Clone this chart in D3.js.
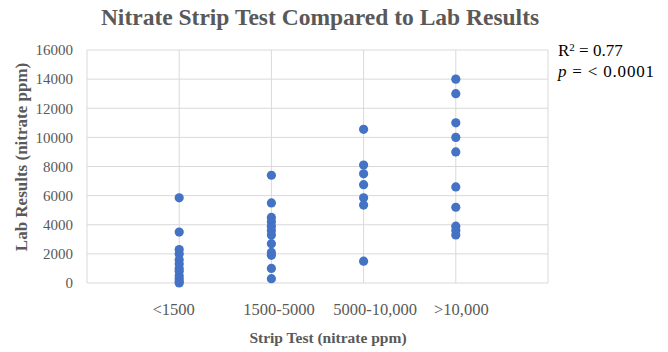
<!DOCTYPE html>
<html>
<head>
<meta charset="utf-8">
<script src="https://cdn.jsdelivr.net/npm/d3@7"></script>
<style>
  body { margin: 0; background: #fff; }
  svg { display: block; }
</style>
</head>
<body>
<svg id="chart" width="668" height="352"></svg>
<script>
// Strip test categories (x positions 1..4) and lab results per category
const categories = ["<1500", "1500-5000", "5000-10,000", ">10,000"];
const lowValues = [5850, 3500, 2300, 2000, 1600, 1300, 1000, 800, 500, 300, 100, 0];
const midValues = [7400, 5500, 4500, 4200, 3900, 3600, 3300, 2700, 2100, 1900, 1000, 300];
const highValues = [10550, 8100, 7500, 6750, 5850, 5350, 1500];
const topValues = [14000, 13000, 11000, 10000, 9000, 6600, 5200, 3900, 3600, 3300];
const yTicks = [0, 2000, 4000, 6000, 8000, 10000, 12000, 14000, 16000];

const seriesByCat = [lowValues, midValues, highValues, topValues];
const points = seriesByCat.flatMap((vals, i) => vals.map((v) => ({ x: i + 1, y: v })));

const svg = d3.select("#chart");
const margin = { left: 87, right: 120, top: 50, bottom: 69 };
const W = 668, H = 352;

const x = d3.scaleLinear().domain([0, 5]).range([margin.left, W - margin.right]);
const y = d3.scaleLinear().domain([0, 16000]).range([H - margin.bottom, margin.top]);

const serif = "'Liberation Serif', 'Times New Roman', serif";
const grey = "#595959";

// Gridlines
svg.append("g")
  .selectAll("line")
  .data(yTicks)
  .join("line")
  .attr("x1", x(0)).attr("x2", x(5))
  .attr("y1", (d) => y(d)).attr("y2", (d) => y(d))
  .attr("stroke", "#d9d9d9").attr("stroke-width", 1);

svg.append("g")
  .selectAll("line")
  .data(d3.range(0, 6))
  .join("line")
  .attr("x1", (d) => x(d)).attr("x2", (d) => x(d))
  .attr("y1", y(0)).attr("y2", y(16000))
  .attr("stroke", "#d9d9d9").attr("stroke-width", 1);

// Y axis labels
const yAxis = d3.axisLeft(y).tickValues(yTicks).tickSize(0).tickPadding(14).tickFormat(d3.format("d"));
const yg = svg.append("g").attr("transform", `translate(${x(0)},0)`).call(yAxis);
yg.select(".domain").remove();
yg.selectAll("text").attr("font-family", serif).attr("font-size", 15).attr("fill", grey);

// X category labels (the original labels sit a little off their columns)
const labelShift = [-6, 7, 11, 5];
const xAxis = d3.axisBottom(x).tickValues([1, 2, 3, 4]).tickSize(0).tickPadding(20)
  .tickFormat((d) => categories[d - 1]);
const xg = svg.append("g").attr("transform", `translate(0,${y(0)})`).call(xAxis);
xg.select(".domain").remove();
xg.selectAll("text")
  .attr("font-family", serif).attr("font-size", 16.5).attr("fill", grey)
  .attr("dx", (d) => labelShift[d - 1]);

// Points
svg.append("g")
  .selectAll("circle")
  .data(points)
  .join("circle")
  .attr("cx", (d) => x(d.x))
  .attr("cy", (d) => y(d.y))
  .attr("r", 4.6)
  .attr("fill", "#4472C4");

// Title
svg.append("text")
  .attr("x", 320).attr("y", 25)
  .attr("text-anchor", "middle")
  .attr("font-family", serif).attr("font-weight", "bold").attr("font-size", 23.5)
  .attr("fill", grey)
  .text("Nitrate Strip Test Compared to Lab Results");

// Axis titles
svg.append("text")
  .attr("x", 328).attr("y", 343)
  .attr("text-anchor", "middle")
  .attr("font-family", serif).attr("font-weight", "bold").attr("font-size", 15.5)
  .attr("fill", grey)
  .text("Strip Test (nitrate ppm)");

svg.append("text")
  .attr("transform", `translate(27,157) rotate(-90)`)
  .attr("text-anchor", "middle")
  .attr("font-family", serif).attr("font-weight", "bold").attr("font-size", 17)
  .attr("fill", grey)
  .text("Lab Results (nitrate ppm)");

// Stats annotation
const note = svg.append("g").attr("font-family", serif).attr("font-size", 17).attr("fill", "#000");
const r2 = note.append("text").attr("x", 558).attr("y", 56);
r2.append("tspan").text("R");
r2.append("tspan").attr("font-size", 11).attr("dy", -5).text("2");
r2.append("tspan").attr("dy", 5).text(" = 0.77");
const pv = note.append("text").attr("x", 558).attr("y", 77).attr("letter-spacing", 0.8);
pv.append("tspan").attr("font-style", "italic").text("p");
pv.append("tspan").text(" = < 0.0001");
</script>
</body>
</html>
